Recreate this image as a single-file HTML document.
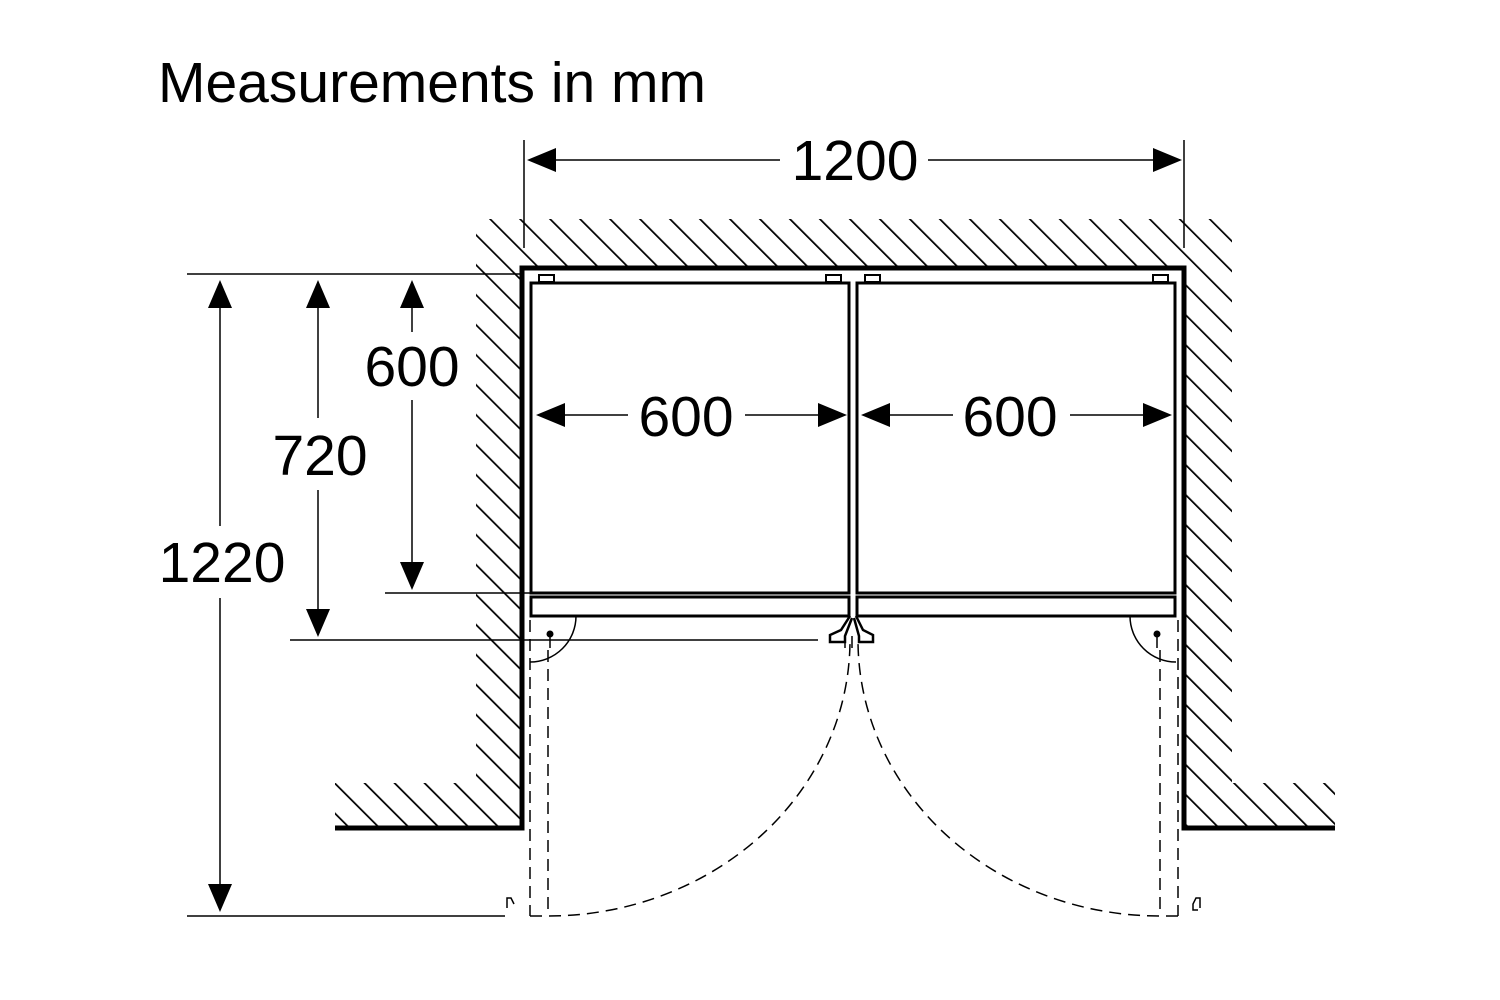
<!DOCTYPE html>
<html><head><meta charset="utf-8"><style>
html,body{margin:0;padding:0;background:#fff;}
svg{display:block;}
text{font-family:"Liberation Sans",Arial,sans-serif;fill:#000;}
</style></head><body>
<svg width="1500" height="1000" viewBox="0 0 1500 1000" xmlns="http://www.w3.org/2000/svg">
<defs>
<pattern id="h" patternUnits="userSpaceOnUse" width="21.2" height="21.2" patternTransform="rotate(-45)">
<line x1="0" y1="-5" x2="0" y2="30" stroke="#000" stroke-width="3.5"/>
</pattern>
<clipPath id="c"><path d="M476 219 H1232 V783 H1335 V826 H1186 V266 H520 V783 V826 H335 V783 H476 Z"/></clipPath>
</defs>
<rect width="1500" height="1000" fill="#fff"/>
<text x="158" y="102" font-size="57">Measurements in mm</text>
<rect x="330" y="215" width="1010" height="615" fill="url(#h)" clip-path="url(#c)"/>
<path d="M335 828 H522 V268 H1184 V828 H1335" fill="none" stroke="#000" stroke-width="5"/>
<g stroke="#000" stroke-width="1.5">
<line x1="524" y1="140" x2="524" y2="248"/><line x1="1184" y1="140" x2="1184" y2="248"/>
<line x1="550" y1="160" x2="780" y2="160"/><line x1="928" y1="160" x2="1158" y2="160"/>
</g>
<path d="M527 160 L556 148 L556 172 Z M1182 160 L1153 148 L1153 172 Z"/>
<text x="855" y="180" font-size="57" text-anchor="middle">1200</text>
<g fill="none" stroke="#000" stroke-width="3">
<rect x="531" y="283" width="318" height="310"/>
<rect x="531" y="597" width="318" height="19"/>
<rect x="857" y="283" width="318" height="310"/>
<rect x="857" y="597" width="318" height="19"/>
</g>
<g fill="none" stroke="#000" stroke-width="2">
<rect x="539" y="275" width="15" height="7"/><rect x="826" y="275" width="15" height="7"/>
<rect x="865" y="275" width="15" height="7"/><rect x="1153" y="275" width="15" height="7"/>
</g>
<g fill="none" stroke="#000" stroke-width="2.5">
<path d="M850 616 L841 630 L830 635 L830 642 L845 642 L845 636 L852 618"/>
<path d="M856 616 L863 630 L873 635 L873 642 L859 642 L859 636 L854 618"/>
</g>
<g stroke="#000" stroke-width="1.5">
<line x1="560" y1="415" x2="628" y2="415"/><line x1="745" y1="415" x2="820" y2="415"/>
<line x1="887" y1="415" x2="953" y2="415"/><line x1="1070" y1="415" x2="1146" y2="415"/>
</g>
<path d="M536 415 L565 403 L565 427 Z M847 415 L818 403 L818 427 Z M861 415 L890 403 L890 427 Z M1172 415 L1143 403 L1143 427 Z"/>
<text x="686" y="436" font-size="57" text-anchor="middle">600</text>
<text x="1010" y="436" font-size="57" text-anchor="middle">600</text>
<g stroke="#000" stroke-width="1.5">
<line x1="187" y1="274" x2="520" y2="274"/>
<line x1="385" y1="593" x2="530" y2="593"/>
<line x1="290" y1="640" x2="818" y2="640"/>
<line x1="187" y1="916" x2="505" y2="916"/>
<line x1="220" y1="300" x2="220" y2="526"/><line x1="220" y1="598" x2="220" y2="892"/>
<line x1="318" y1="300" x2="318" y2="418"/><line x1="318" y1="490" x2="318" y2="616"/>
<line x1="412" y1="300" x2="412" y2="332"/><line x1="412" y1="400" x2="412" y2="568"/>
</g>
<path d="M220 280 L208 308 L232 308 Z M220 912 L208 884 L232 884 Z M318 280 L306 308 L330 308 Z M318 637 L306 609 L330 609 Z M412 280 L400 308 L424 308 Z M412 590 L400 562 L424 562 Z"/>
<text x="222" y="582" font-size="57" text-anchor="middle">1220</text>
<text x="320" y="475" font-size="57" text-anchor="middle">720</text>
<text x="412" y="386" font-size="57" text-anchor="middle">600</text>
<circle cx="550" cy="634" r="3.5"/><circle cx="1157" cy="634" r="3.5"/>
<g fill="none" stroke="#000" stroke-width="1.5">
<line x1="550" y1="634" x2="550" y2="648"/><line x1="1157" y1="634" x2="1157" y2="648"/>
<path d="M530 662 A46 46 0 0 0 576 616"/>
<path d="M1176 662 A46 46 0 0 1 1130 616"/>
</g>
<g fill="none" stroke="#000" stroke-width="1.5" stroke-dasharray="12 7">
<line x1="530" y1="620" x2="530" y2="916"/><line x1="548" y1="650" x2="548" y2="916"/>
<line x1="1160" y1="650" x2="1160" y2="916"/><line x1="1178" y1="620" x2="1178" y2="916"/>
<path d="M530 916 H548 A302 276 0 0 0 850 640"/>
<path d="M1178 916 H1160 A302 276 0 0 1 858 640"/>
<line x1="845" y1="636" x2="845" y2="650"/><line x1="852" y1="636" x2="852" y2="650"/>
</g>
<g fill="none" stroke="#000" stroke-width="1.5">
<path d="M507 908 V898 H511 L514 904"/>
<path d="M1200 908 V898 H1196 L1193 904 L1193 910 H1198"/>
</g>
</svg>
</body></html>
